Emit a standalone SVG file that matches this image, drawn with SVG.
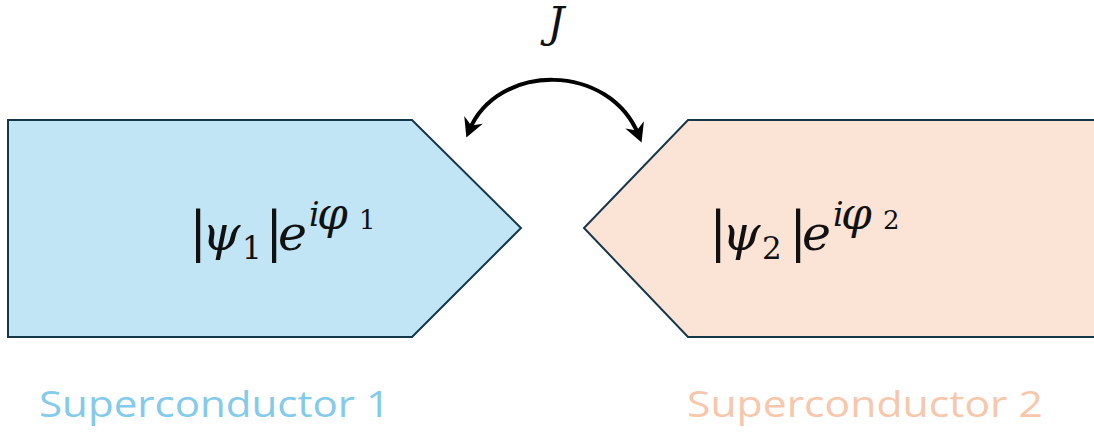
<svg xmlns="http://www.w3.org/2000/svg" width="1094" height="432" viewBox="0 0 1094 432">
  <style>
    .sc1 { fill: #C1E5F5; stroke: #163749; stroke-width: 2; stroke-linejoin: miter; }
    .sc2 { fill: #FBE3D6; stroke: #163749; stroke-width: 2; stroke-linejoin: miter; }
    .math { font-family: "DejaVu Serif", "Liberation Serif", serif; fill: #111; font-size: 49px; }
    .it { font-style: italic; }
    .bar { font-size: 54px; font-weight: 300; font-style: normal; }
    .sup { font-size: 33px; font-style: italic; }
    .phi { font-size: 44px; font-style: italic; }
    .sub { font-size: 31px; font-style: normal; }
    .subsub { font-size: 26px; font-style: normal; }
    .label { font-family: "Open Sans", "Liberation Sans", sans-serif; font-size: 37px; }
    .link { fill: none; stroke: #000; stroke-width: 4; stroke-linecap: butt; }
  </style>
  <defs>
    <marker id="head" markerUnits="userSpaceOnUse" markerWidth="40" markerHeight="40" refX="0" refY="0" orient="auto-start-reverse" overflow="visible">
      <path d="M7,0 L-12,-10 L-6,0 L-12,10 Z" fill="#000"/>
    </marker>
  </defs>

  <rect width="1094" height="432" fill="#fff"/>

  <!-- coupling between the two condensates -->
  <g id="connectors">
    <path class="link" d="M469,131 C497,62 610,62 639,136" marker-start="url(#head)" marker-end="url(#head)"/>
    <text class="math it" x="556" y="37" font-size="42" style="font-size:42px" text-anchor="middle">J</text>
  </g>

  <!-- left superconductor -->
  <g id="superconductor1">
    <path class="sc1" d="M8,120 L412,120 L521,228 L412,337 L8,337 Z"/>
    <text class="math"><tspan class="bar" x="189" y="250">|</tspan><tspan class="it" x="202" y="250">ψ</tspan><tspan class="sub" x="242" y="259">1</tspan><tspan class="bar" x="265" y="250">|</tspan><tspan class="it" x="278" y="250">e</tspan><tspan class="sup" x="309" y="226">i</tspan><tspan class="phi" x="317" y="229">φ</tspan><tspan class="subsub" x="359" y="229">1</tspan></text>
    <text class="label" x="39" y="417" fill="#83CAEB" textLength="351" lengthAdjust="spacingAndGlyphs">Superconductor 1</text>
  </g>

  <!-- right superconductor -->
  <g id="superconductor2">
    <path class="sc2" d="M1100,120 L688,120 L584,228 L688,337 L1100,337 Z"/>
    <text class="math"><tspan class="bar" x="709" y="250">|</tspan><tspan class="it" x="722" y="250">ψ</tspan><tspan class="sub" x="762" y="259">2</tspan><tspan class="bar" x="789" y="250">|</tspan><tspan class="it" x="802" y="250">e</tspan><tspan class="sup" x="833" y="226">i</tspan><tspan class="phi" x="841" y="229">φ</tspan><tspan class="subsub" x="883" y="229">2</tspan></text>
    <text class="label" x="687" y="417" fill="#F7C7AC" textLength="356" lengthAdjust="spacingAndGlyphs">Superconductor 2</text>
  </g>
</svg>
